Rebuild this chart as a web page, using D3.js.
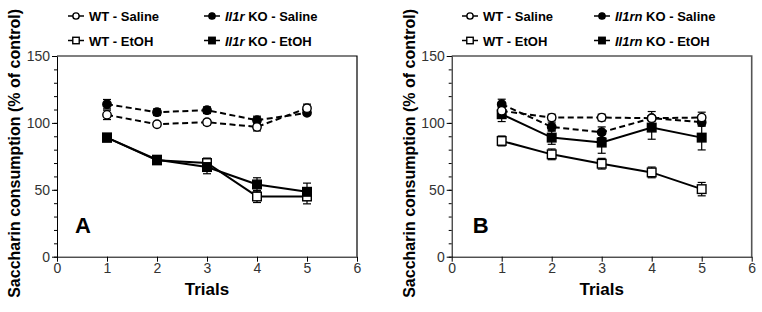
<!DOCTYPE html>
<html>
<head>
<meta charset="utf-8">
<script src="https://cdn.jsdelivr.net/npm/d3@7"></script>
<style>
  body { margin: 0; background: #fff; }
  text { font-family: "Liberation Sans", Arial, sans-serif; }
</style>
</head>
<body>
<div id="chart"></div>
<script>
// data
const trials = [1, 2, 3, 4, 5];
const xTicks = [0, 1, 2, 3, 4, 5, 6];
const yTicks = [0, 50, 100, 150];
const yMinorTicks = d3.range(0, 151, 10);

// panel A (Il1r)
const aWtSaline = [106, 99, 100.5, 97, 111];
const aWtSalineErr = [3.5, 1.5, 2, 3, 3];
const aKoSaline = [114, 108, 109.5, 102, 107.5];
const aKoSalineErr = [3.5, 2.5, 2.5, 3, 1.5];
const aWtEtoh = [89, 72, 70, 45, 45];
const aWtEtohErr = [2, 3, 3.7, 4.5, 5.5];
const aKoEtoh = [89, 72.5, 67, 54, 48.5];
const aKoEtohErr = [2, 2.5, 5, 5, 6.5];

// panel B (Il1rn)
const bWtSaline = [109, 104, 104, 103.5, 104];
const bWtSalineErr = [2.5, 2.5, 2.5, 2, 4];
const bKoSaline = [114, 97, 93, 103.5, 100.5];
const bKoSalineErr = [3.7, 3, 4, 5, 3];
const bWtEtoh = [86.5, 76.5, 69.5, 63, 50.5];
const bWtEtohErr = [3.7, 4, 4, 4, 5];
const bKoEtoh = [106.5, 89, 85.3, 96.5, 89];
const bKoEtohErr = [5.5, 5, 8, 8.7, 9.2];

const svg = d3.select("#chart")
  .append("svg")
  .attr("width", 762)
  .attr("height", 312);

svg.append("rect").attr("width", 762).attr("height", 312).attr("fill", "#fff");

function drawPanel(opt) {
  const g = svg.append("g");

  const x = d3.scaleLinear().domain([0, 6]).range([opt.left, opt.left + 300]);
  const y = d3.scaleLinear().domain([0, 150]).range([256.7, 56]);

  // box
  g.append("path")
    .attr("d", `M${x(0)},${y(150)}H${x(6)}V${y(0)}`)
    .attr("fill", "none")
    .attr("stroke", opt.boxColor)
    .attr("stroke-width", opt.boxWidth);

  // minor y ticks
  g.append("g")
    .attr("transform", `translate(${x(0)},0)`)
    .call(d3.axisLeft(y).tickValues(yMinorTicks).tickSize(3).tickSizeOuter(0).tickFormat(""))
    .call(a => a.select(".domain").remove());

  const yAxis = g.append("g")
    .attr("transform", `translate(${x(0)},0)`)
    .call(d3.axisLeft(y).tickValues(yTicks).tickSize(5).tickSizeOuter(0).tickPadding(2));
  yAxis.selectAll("text").attr("font-size", 14).attr("fill", "#333").attr("font-family", "Liberation Sans, Arial, sans-serif");

  const xAxis = g.append("g")
    .attr("transform", `translate(0,${y(0)})`)
    .call(d3.axisBottom(x).tickValues(xTicks).tickFormat(d3.format("d")).tickSize(5).tickSizeOuter(0).tickPadding(1));
  xAxis.selectAll("text").attr("font-size", 14).attr("fill", "#333").attr("font-family", "Liberation Sans, Arial, sans-serif");

  // axis titles
  g.append("text")
    .attr("transform", `translate(${x(0) - 37},${(y(0) + y(150)) / 2 - 3}) rotate(-90)`)
    .attr("text-anchor", "middle")
    .attr("font-size", 16)
    .attr("font-weight", "bold")
    .text("Saccharin consumption (% of control)");

  g.append("text")
    .attr("x", (x(0) + x(6)) / 2)
    .attr("y", 295)
    .attr("text-anchor", "middle")
    .attr("font-size", 17)
    .attr("font-weight", "bold")
    .text("Trials");

  g.append("text")
    .attr("x", x(0) + opt.letterDx)
    .attr("y", 232.5)
    .attr("font-size", 22)
    .attr("font-weight", "bold")
    .text(opt.letter);

  const line = d3.line().x((d, i) => x(trials[i])).y(d => y(d));

  opt.series.forEach(s => {
    g.append("path")
      .datum(s.values)
      .attr("d", line)
      .attr("fill", "none")
      .attr("stroke", "#000")
      .attr("stroke-width", 2)
      .attr("stroke-dasharray", s.dashed ? "6,3.5" : null);
  });

  opt.series.forEach(s => {
    const eb = g.append("g");
    s.values.forEach((v, i) => {
      const cx = x(trials[i]);
      const y1 = y(v + s.err[i]), y2 = y(v - s.err[i]);
      eb.append("line").attr("x1", cx).attr("x2", cx).attr("y1", y1).attr("y2", y2)
        .attr("stroke", "#000").attr("stroke-width", 1.2);
      [y1, y2].forEach(yy => {
        eb.append("line").attr("x1", cx - 4).attr("x2", cx + 4).attr("y1", yy).attr("y2", yy)
          .attr("stroke", "#000").attr("stroke-width", 1.2);
      });
    });
  });

  opt.series.forEach(s => {
    s.values.forEach((v, i) => {
      drawMarker(g, x(trials[i]), y(v), s.shape, s.filled, 1);
    });
  });

  // legend
  opt.series.forEach(s => {
    const lx = opt.legend[s.col], ly = s.row === 0 ? 16 : 40.5;
    g.append("line")
      .attr("x1", lx).attr("x2", lx + 16)
      .attr("y1", ly).attr("y2", ly)
      .attr("stroke", "#000").attr("stroke-width", 1.5);
    drawMarker(g, lx + 8, ly, s.shape, s.filled, 0.75);
    const t = g.append("text")
      .attr("x", lx + 21)
      .attr("y", ly + 5)
      .attr("font-size", 13)
      .attr("font-weight", "bold");
    if (s.gene) {
      t.append("tspan").attr("font-style", "italic").text(s.gene);
      t.append("tspan").text(" KO - " + s.treat);
    } else {
      t.text("WT - " + s.treat);
    }
  });
}

function drawMarker(g, cx, cy, shape, filled, k) {
  if (shape === "circle") {
    g.append("circle")
      .attr("cx", cx).attr("cy", cy).attr("r", 4.2 * k)
      .attr("fill", filled ? "#000" : "#fff")
      .attr("stroke", "#000").attr("stroke-width", 1.4);
  } else {
    const h = 4.3 * k;
    g.append("rect")
      .attr("x", cx - h).attr("y", cy - h)
      .attr("width", 2 * h).attr("height", 2 * h)
      .attr("fill", filled ? "#000" : "#fff")
      .attr("stroke", "#000").attr("stroke-width", 1.4);
  }
}

drawPanel({
  left: 57,
  letter: "A",
  letterDx: 18,
  boxColor: "#000",
  boxWidth: 1.2,
  legend: [68, 204],
  series: [
    { values: aWtEtoh, err: aWtEtohErr, shape: "square", filled: false, dashed: false, row: 1, col: 0, treat: "EtOH" },
    { values: aKoEtoh, err: aKoEtohErr, shape: "square", filled: true, dashed: false, row: 1, col: 1, gene: "Il1r", treat: "EtOH" },
    { values: aKoSaline, err: aKoSalineErr, shape: "circle", filled: true, dashed: true, row: 0, col: 1, gene: "Il1r", treat: "Saline" },
    { values: aWtSaline, err: aWtSalineErr, shape: "circle", filled: false, dashed: true, row: 0, col: 0, treat: "Saline" }
  ]
});

drawPanel({
  left: 451.7,
  letter: "B",
  letterDx: 21,
  boxColor: "#555",
  boxWidth: 1.6,
  legend: [462, 594],
  series: [
    { values: bWtEtoh, err: bWtEtohErr, shape: "square", filled: false, dashed: false, row: 1, col: 0, treat: "EtOH" },
    { values: bKoEtoh, err: bKoEtohErr, shape: "square", filled: true, dashed: false, row: 1, col: 1, gene: "Il1rn", treat: "EtOH" },
    { values: bKoSaline, err: bKoSalineErr, shape: "circle", filled: true, dashed: true, row: 0, col: 1, gene: "Il1rn", treat: "Saline" },
    { values: bWtSaline, err: bWtSalineErr, shape: "circle", filled: false, dashed: true, row: 0, col: 0, treat: "Saline" }
  ]
});
</script>
</body>
</html>
